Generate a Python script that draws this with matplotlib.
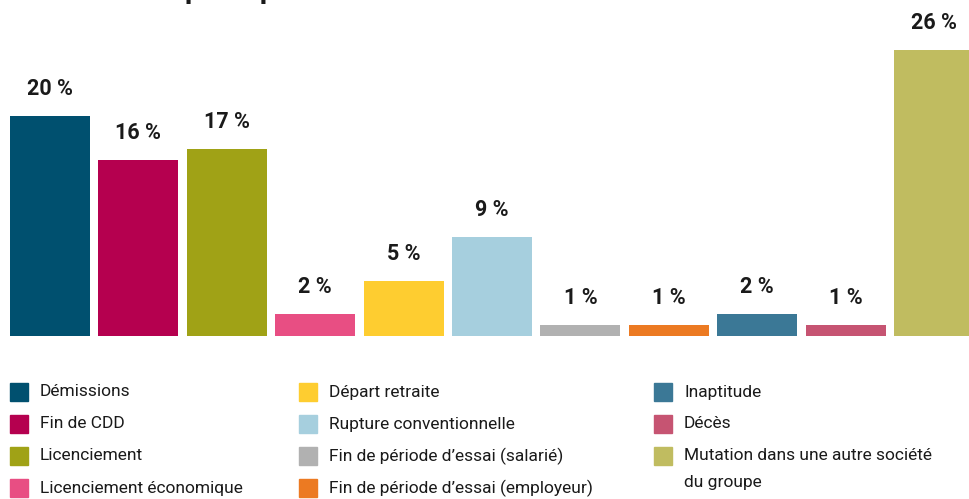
import matplotlib
matplotlib.use("Agg")
import matplotlib.pyplot as plt
from matplotlib.patches import Rectangle

# motifs de départ (%)
motifs = ["Démissions", "Fin de CDD", "Licenciement", "Licenciement économique",
          "Départ retraite", "Rupture conventionnelle", "Fin de période d’essai (salarié)",
          "Fin de période d’essai (employeur)", "Inaptitude", "Décès",
          "Mutation dans une autre société\ndu groupe"]
valeurs = [20, 16, 17, 2, 5, 9, 1, 1, 2, 1, 26]
couleurs = ["#00506F", "#B5004F", "#A0A216", "#E84E83", "#FECD30", "#A6CFDE",
            "#B1B1B1", "#EC7A22", "#3B7896", "#C65472", "#C0BC60"]

W, H = 970, 499
fig = plt.figure(figsize=(W / 100, H / 100), dpi=100)
plt.rcParams['font.family'] = ['Roboto', 'DejaVu Sans']

# axes calées en pixels : base des barres à y=336, 11 px par point de %
base = 336
ax = fig.add_axes([0, (H - base) / H, 1, base / H])
step = 88.4
x0 = 50
ax.set_xlim((0 - x0) / step, (W - x0) / step)
ax.set_ylim(0, base / 11)
ax.axis("off")

pos = list(range(len(valeurs)))
ax.bar(pos, valeurs, width=80 / step, color=couleurs)
for i, v in zip(pos, valeurs):
    ax.annotate(f"{v} %", xy=(i, v), xytext=(0, 27 * 0.72), textcoords="offset points",
                ha="center", va="center", fontsize=15.5, fontweight="bold", color="#1a1a1a")

# titre coupé en haut de l'image
fig.text(150 / W, 1 + 2 / H, "Départs par motif", fontsize=21, fontweight="bold",
         ha="left", va="baseline", color="#1a1a1a")

# légende manuelle sur 3 colonnes
cols_x = [10, 299, 654]
rows_y = [392, 424, 456, 488]
idx = 0
for c, n in enumerate([4, 4, 3]):
    for r in range(n):
        sx = cols_x[c]
        sy = rows_y[r]
        fig.patches.append(Rectangle((sx / W, 1 - (sy + 9) / H), 18 / W, 18 / H,
                                     transform=fig.transFigure, color=couleurs[idx]))
        lignes = motifs[idx].split("\n")
        for k, ligne in enumerate(lignes):
            fig.text((sx + 30) / W, 1 - (sy + 26 * k) / H, ligne, fontsize=12.5,
                     ha="left", va="center", color="#1a1a1a")
        idx += 1

fig.savefig("out.png", dpi=100)
